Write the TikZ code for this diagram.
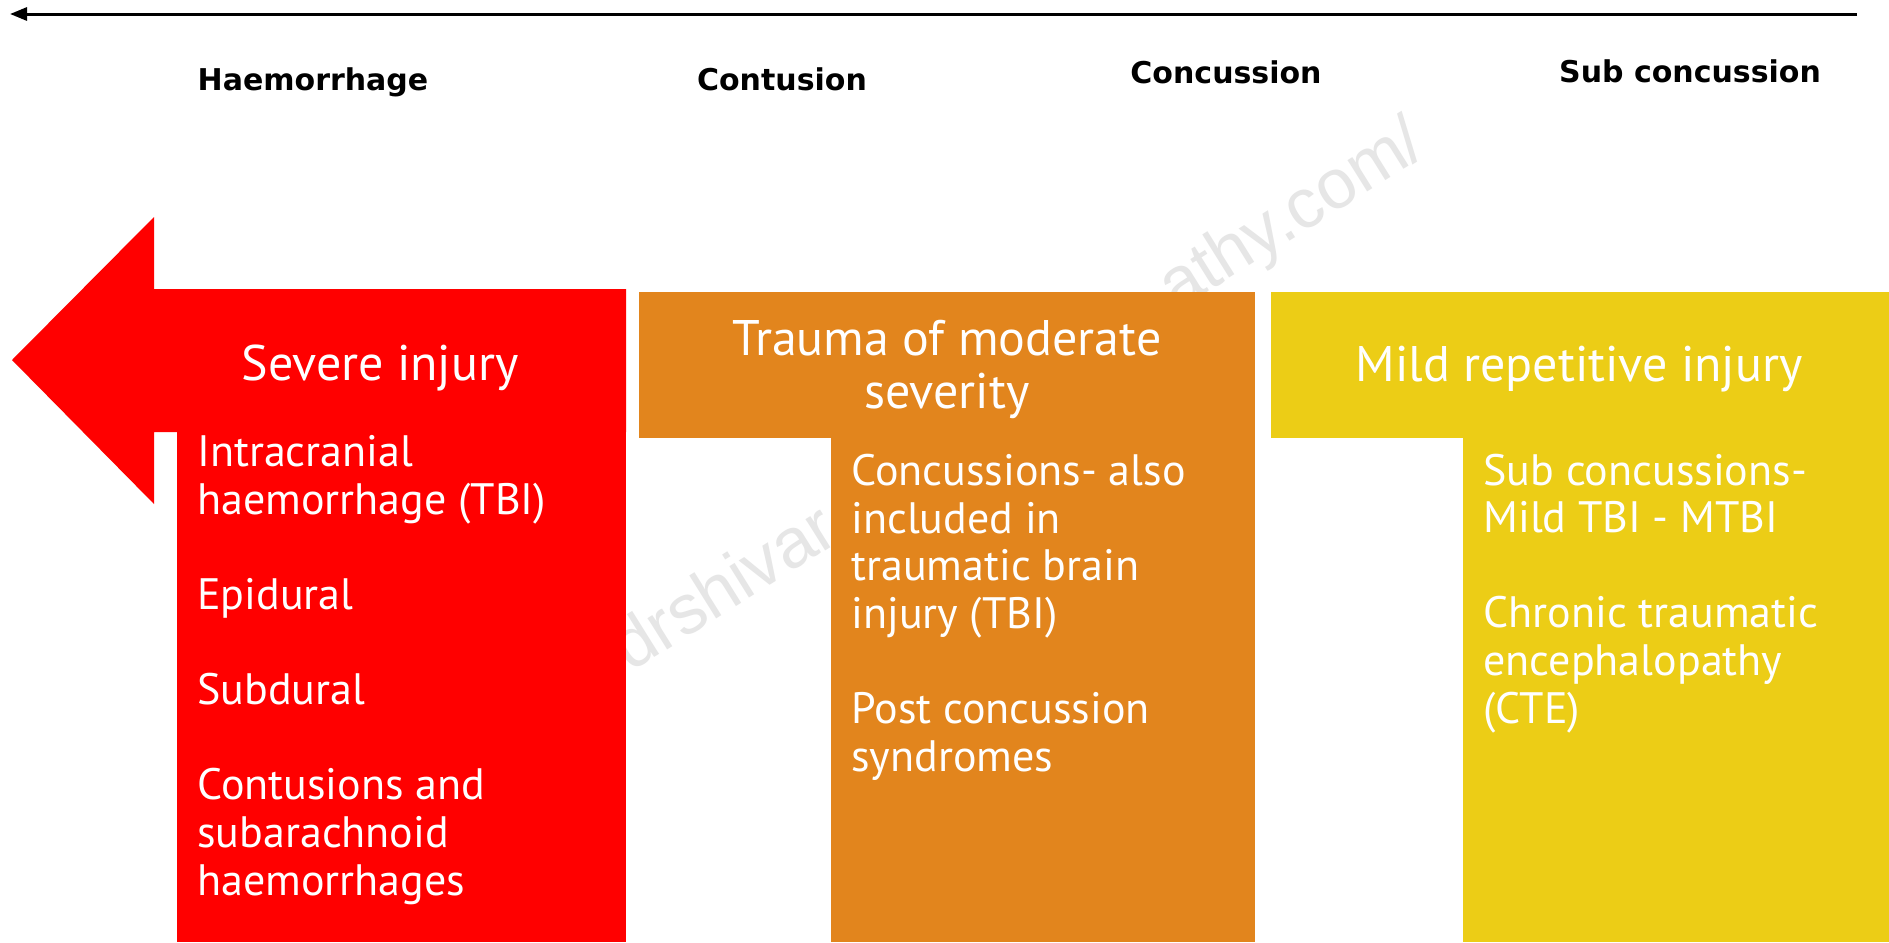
\documentclass[tikz,border=0pt]{standalone}
\usepackage{fontspec}
\setmainfont{PT Sans}
\newfontfamily\gradefamily{DejaVu Sans}
\newfontfamily\markfamily{Liberation Sans}
\usetikzlibrary{arrows.meta}

\definecolor{severe}{RGB}{255,0,0}
\definecolor{moderate}{RGB}{226,133,29}
\definecolor{mild}{RGB}{236,205,22}
\definecolor{markgray}{RGB}{230,230,230}

\tikzset{
  tier/.style={text=white, font=\fontsize{25}{26.5}\selectfont, align=center, anchor=base, inner sep=0pt},
  items/.style={text=white, font=\fontsize{22}{23.8}\selectfont, align=left, anchor=base west, inner sep=0pt},
  grade/.style={font=\gradefamily\bfseries\fontsize{15}{18}\selectfont, anchor=base, inner sep=0pt},
  watermark/.style={text=markgray, font=\markfamily\fontsize{35}{40}\selectfont, rotate=32, anchor=base west, inner sep=0pt},
  timeline/.style={-{Triangle[length=8.5pt,width=6.5pt]}, line width=1.5pt, draw=black}
}

\begin{document}
\begin{tikzpicture}[x=0.5pt, y=-0.5pt]
  \useasboundingbox[fill=white] (0,0) rectangle (1889,942);

  % severity scale along the top
  \coordinate (scaleR) at (1857,14);
  \coordinate (scaleL) at (10,14);
  \draw[timeline] (scaleR) -- (scaleL);
  \node[grade] (haem) at (313,90) {Haemorrhage};
  \node[grade] (cont) at (782,90) {Contusion};
  \node[grade] (conc) at (1226,83) {Concussion};
  \node[grade] (subc) at (1690,82) {Sub concussion};

  % watermark sits behind the bands
  \node[watermark] (wmA) at (630,673) {drshivar};
  \node[watermark] (wmB) at (1176,312) {athy.com/};

  % bands
  \fill[severe] (12,360) -- (154,217) -- (154,289) -- (626,289) -- (626,432)
    -- (154,432) -- (154,504) -- cycle;
  \fill[severe] (177,431) rectangle (626,942);
  \fill[moderate] (639,292) rectangle (1255,438);
  \fill[moderate] (831,437) rectangle (1255,942);
  \fill[mild] (1271,292) rectangle (1889,438);
  \fill[mild] (1463,437) rectangle (1889,942);

  % headings (base = last line)
  \node[tier] (sevHead) at (380,380) {Severe injury};
  \node[tier] (modHead) at (947,408) {Trauma of moderate\\severity};
  \node[tier] (mildHead) at (1579,381) {Mild repetitive injury};

  % lists (base = last line)
  \node[items] (sevItems) at (197,895) {Intracranial\\haemorrhage (TBI)\\[23.8pt]Epidural\\[23.8pt]Subdural\\[23.8pt]Contusions and\\subarachnoid\\haemorrhages};
  \node[items] (modItems) at (851,771) {Concussions- also\\included in\\traumatic brain\\injury (TBI)\\[23.8pt]Post concussion\\syndromes};
  \node[items] (mildItems) at (1483,723) {Sub concussions-\\Mild TBI - MTBI\\[23.8pt]Chronic traumatic\\encephalopathy\\(CTE)};
\end{tikzpicture}
\end{document}
